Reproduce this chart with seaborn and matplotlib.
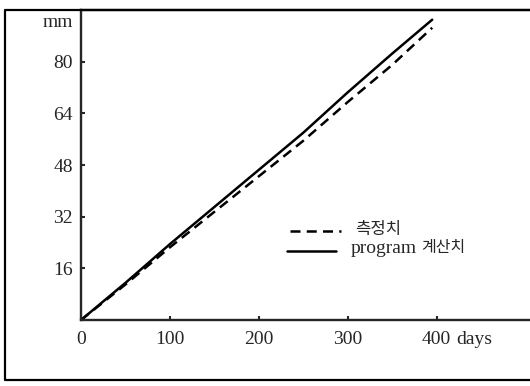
import pandas as pd
import matplotlib
matplotlib.use("Agg")
import matplotlib.pyplot as plt
import seaborn as sns

# Values (days vs. settlement in mm)
days = [0, 50, 100, 150, 200, 250, 300, 350, 395]
measured_mm = [0, 11.0, 22.5, 33.5, 44.5, 55.5, 67.5, 79.0, 90.5]
program_mm = [0, 11.5, 23.5, 35.0, 46.5, 58.0, 70.5, 82.5, 93.0]

x_ticks = [0, 100, 200, 300, 400]
x_tick_labels = ["0", "100", "200", "300", "400"]
y_ticks = [16, 32, 48, 64, 80]
y_tick_labels = ["16", "32", "48", "64", "80"]

label_measured = "측정치"
label_program = "program 계산치"

sns.set_style("ticks")
plt.rcParams['font.family'] = ['Liberation Serif', 'Noto Sans CJK KR']

df = pd.DataFrame({
    "days": days * 2,
    "mm": measured_mm + program_mm,
    "series": [label_measured] * len(days) + [label_program] * len(days),
})

fig = plt.figure(figsize=(5.3, 3.86), dpi=100, facecolor='white')
W, H = 530, 386
ax = fig.add_axes([81 / W, (H - 320) / H, (W - 81) / W, (320 - 10) / H])
ax.set_facecolor('white')

sns.lineplot(data=df, x="days", y="mm", hue="series", style="series",
             palette={label_measured: "black", label_program: "black"},
             dashes={label_measured: (4, 2.5), label_program: ""},
             linewidth=1.8, legend=False, ax=ax)

ax.set_xlim(0, 505)
ax.set_ylim(0, 96)
ax.set_xticks(x_ticks)
ax.set_xticklabels(x_tick_labels)
ax.set_yticks(y_ticks)
ax.set_yticklabels(y_tick_labels)
ax.tick_params(direction='in', length=3, width=1.5, labelsize=14)
ax.tick_params(axis='x', pad=8)
ax.tick_params(axis='y', pad=6)
ax.set_xlabel("")
ax.set_ylabel("")

for side in ["left", "bottom", "top"]:
    ax.spines[side].set_linewidth(1.7)
ax.spines["right"].set_visible(False)

ax.text(-0.017, 0.96, "mm", transform=ax.transAxes, ha='right', va='center', fontsize=14)
ax.annotate("days", xy=(422, 0), xycoords=('data', 'axes fraction'),
            xytext=(0, -8), textcoords='offset points', ha='left', va='top',
            fontsize=14, annotation_clip=False)

# legend drawn by hand as in the reference
ax.plot([235, 292], [27.5, 27.5], color='black', linewidth=1.8, dashes=(4, 2.5))
ax.plot([232, 287], [21.5, 21.5], color='black', linewidth=1.8)
ax.text(308, 28, label_measured, ha='left', va='center', fontsize=12)
prog, kor = label_program.split(" ", 1)
ax.text(303, 22, prog, ha='left', va='center', fontsize=14)
ax.text(383, 22.3, kor, ha='left', va='center', fontsize=11.5)

# outer frame (left, top, bottom) around the whole figure
fx = [W / W, 5 / W, 5 / W, W / W]
fy = [(H - 10) / H, (H - 10) / H, (H - 380) / H, (H - 380) / H]
fig.add_artist(plt.Line2D(fx, fy, transform=fig.transFigure, color='black',
                          linewidth=1.6))

plt.savefig('out.png', dpi=100, facecolor='white')
plt.close()
